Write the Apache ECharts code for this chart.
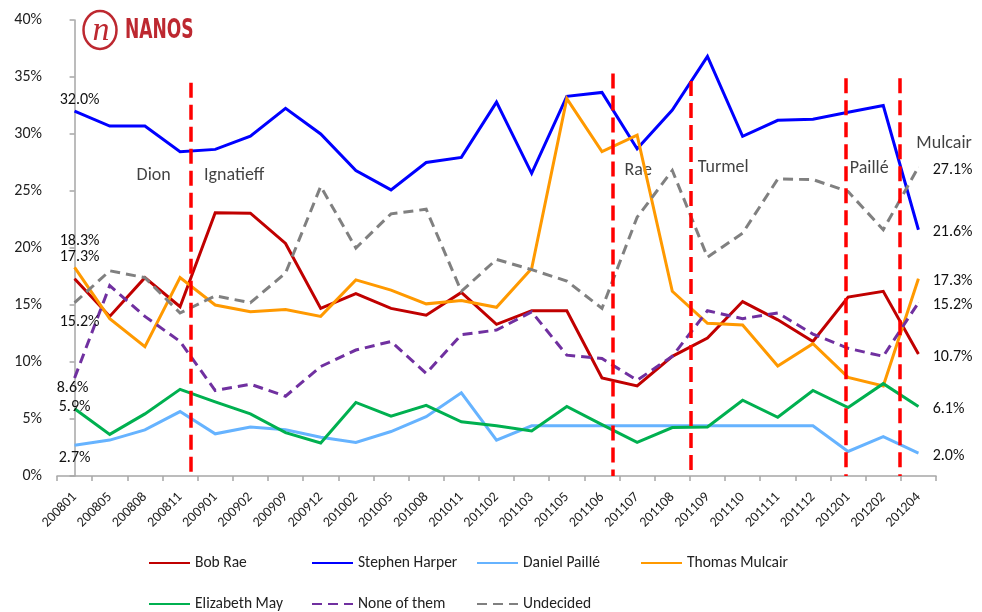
<!DOCTYPE html>
<html><head><meta charset="utf-8">
<script src="https://cdn.jsdelivr.net/npm/echarts@6/dist/echarts.min.js"></script>
<style>html,body{margin:0;padding:0;background:#fff}#c{width:982px;height:612px}</style>
</head><body><div id="c"></div><script>
// ---- data ----
const categories = ['200801','200805','200808','200811','200901','200902','200909','200912','201002','201005','201008','201011','201102','201103','201105','201106','201107','201108','201109','201110','201111','201112','201201','201202','201204'];
const bobRae        = [17.3,14.0,17.4,14.85,23.1,23.05,20.4,14.7,16.0,14.7,14.1,16.1,13.3,14.5,14.5,8.6,7.9,10.5,12.1,15.3,13.7,11.8,15.7,16.2,10.7];
const stephenHarper = [32.0,30.7,30.7,28.45,28.65,29.8,32.25,30.0,26.8,25.1,27.5,27.95,32.8,26.55,33.3,33.65,28.7,32.1,36.8,29.8,31.2,31.3,31.9,32.5,21.6];
const danielPaille  = [2.7,3.15,4.05,5.65,3.7,4.3,4.05,3.4,2.95,3.9,5.2,7.3,3.15,4.4,4.4,4.4,4.4,4.4,4.4,4.4,4.4,4.4,2.15,3.45,2.0];
const thomasMulcair = [18.3,13.8,11.35,17.4,15.0,14.4,14.6,14.0,17.2,16.3,15.1,15.4,14.8,18.2,33.1,28.45,29.9,16.2,13.4,13.25,9.65,11.6,8.65,7.9,17.3];
const elizabethMay  = [5.9,3.65,5.45,7.6,6.5,5.45,3.8,2.9,6.45,5.25,6.2,4.75,4.4,3.95,6.1,4.5,2.95,4.25,4.3,6.65,5.15,7.5,6.0,8.1,6.1];
const noneOfThem    = [8.6,16.7,14.0,11.8,7.5,8.05,7.0,9.6,11.05,11.8,9.0,12.4,12.8,14.4,10.6,10.3,8.4,10.5,14.5,13.8,14.3,12.45,11.2,10.5,15.2];
const undecided     = [15.2,18.0,17.4,14.3,15.8,15.2,17.8,25.4,20.0,23.0,23.4,16.2,19.0,18.1,17.1,14.7,22.7,26.8,19.2,21.3,26.05,26.0,24.95,21.6,27.1];
const yTicks = [0,5,10,15,20,25,30,35,40];
// leader-change markers (position in category units between surveys, top value in %)
const leaderNames  = ['Dion','Ignatieff','Rae','Turmel','Paillé','Mulcair'];
const leaderLabelX = [2.25,4.54,16.03,18.45,22.6,24.73];
const leaderLabelY = [26.4,26.4,26.84,27.02,26.93,29.2];
const changeX   = [3.30,15.32,17.52,21.93,23.47];
const changeTop = [34.5,35.3,34.65,34.9,34.9];

// ---- styling ----
const FONT = 'Carlito, Lato, sans-serif';
const seriesDefs = [
  {name:'Bob Rae',        data:bobRae,        color:'#c00000', dashed:false, off:[5,-22]},
  {name:'Stephen Harper', data:stephenHarper, color:'#0000ff', dashed:false, off:[5,-11]},
  {name:'Daniel Paillé',  data:danielPaille,  color:'#66b3ff', dashed:false, off:[0,13]},
  {name:'Thomas Mulcair', data:thomasMulcair, color:'#ff9900', dashed:false, off:[5,-26]},
  {name:'Elizabeth May',  data:elizabethMay,  color:'#00b050', dashed:false, off:[0,-2]},
  {name:'None of them',   data:noneOfThem,    color:'#7030a0', dashed:true,  off:[-2,10]},
  {name:'Undecided',      data:undecided,     color:'#808080', dashed:true,  off:[5,19]}
];
const labelStyle = {fontSize:16, color:'#111', fontFamily:FONT,
  formatter: p => Number(p.value).toFixed(1) + '%'};

const series = seriesDefs.map(d => {
  const last = d.data.length - 1;
  return {
    name: d.name, type:'line', xAxisIndex:0, yAxisIndex:0,
    symbol:'none', silent:true, animation:false,
    emphasis:{disabled:true},
    lineStyle:{color:d.color, width:3, type: d.dashed ? [10,6] : 'solid', cap:'butt', join:'miter'},
    itemStyle:{color:d.color},
    data: d.data.map((v,i) => {
      if (i === 0) return {value:v, symbol:'circle', symbolSize:0.5,
        label:Object.assign({show:true, position:'inside', offset:d.off}, labelStyle)};
      if (i === last) return {value:v, symbol:'circle', symbolSize:0.5,
        label:Object.assign({show:true, position:'right', distance:14, offset:[0,2.5]}, labelStyle)};
      return v;
    })
  };
});

series.push({
  type:'scatter', xAxisIndex:1, yAxisIndex:0, silent:true, animation:false, clip:false,
  symbolSize:1, itemStyle:{color:'rgba(0,0,0,0)'},
  data: leaderNames.map((n,i) => [leaderLabelX[i], leaderLabelY[i], n]),
  label:{show:true, position:'inside', formatter:p => p.data[2], fontSize:18, color:'#111', fontFamily:FONT},
  markLine:{
    silent:true, symbol:'none', animation:false,
    label:{show:false},
    lineStyle:{color:'#ff0000', width:3.5, type:[15,7], cap:'butt'},
    data: changeX.map((x,i) => [{coord:[x, changeTop[i]]}, {coord:[x, 0]}])
  }
});

const legendLefts = [143,306,471,635];
const legends = seriesDefs.map((d,i) => ({
  data:[d.name], left: legendLefts[i % 4], top: i < 4 ? 550 : 591,
  itemWidth:41, itemHeight:14, selectedMode:false,
  itemStyle:{opacity:0},
  textStyle:{fontSize:15.5, color:'#222', fontFamily:FONT}
}));

const option = {
  animation:false,
  backgroundColor:'#fff',
  grid:{left:57, right:46, top:20, bottom:136, containLabel:false},
  legend: legends,
  xAxis:[{
    type:'category', data:categories, boundaryGap:true,
    axisLine:{lineStyle:{color:'#a6a6a6', width:1.5}},
    axisTick:{show:true, interval:0, length:5, lineStyle:{color:'#a6a6a6', width:1.5}},
    axisLabel:{interval:0, rotate:45, margin:19, fontSize:14, color:'#222', fontFamily:FONT},
    splitLine:{show:false}
  },{
    type:'value', min:-0.5, max:24.5, show:false, position:'top'
  }],
  yAxis:{
    type:'value', min:yTicks[0], max:yTicks[yTicks.length-1], interval:5,
    axisLine:{show:true, lineStyle:{color:'#a6a6a6', width:1.5}},
    axisTick:{show:true, length:5, lineStyle:{color:'#a6a6a6', width:1.5}},
    axisLabel:{formatter:'{value}%', fontSize:16, color:'#222', fontFamily:FONT, margin:15},
    splitLine:{show:false}
  },
  graphic:[
    {type:'ellipse', shape:{cx:100, cy:30, rx:16.5, ry:19}, style:{fill:'none', stroke:'#bd2830', lineWidth:2.5}, silent:true},
    {type:'text', x:101, y:31, style:{text:'n', font:'italic 34px "Liberation Serif", serif', fill:'#bd2830', align:'center', verticalAlign:'middle'}, silent:true},
    {type:'text', x:125, y:31, scaleX:0.73, style:{text:'NANOS', font:'bold 26px "Liberation Sans Narrow", "DejaVu Sans Condensed", sans-serif', fill:'#bd2830', verticalAlign:'middle'}, silent:true}
  ],
  series
};
const chart = echarts.init(document.getElementById('c'), null, {renderer:'canvas'});
chart.setOption(option);
</script></body></html>
